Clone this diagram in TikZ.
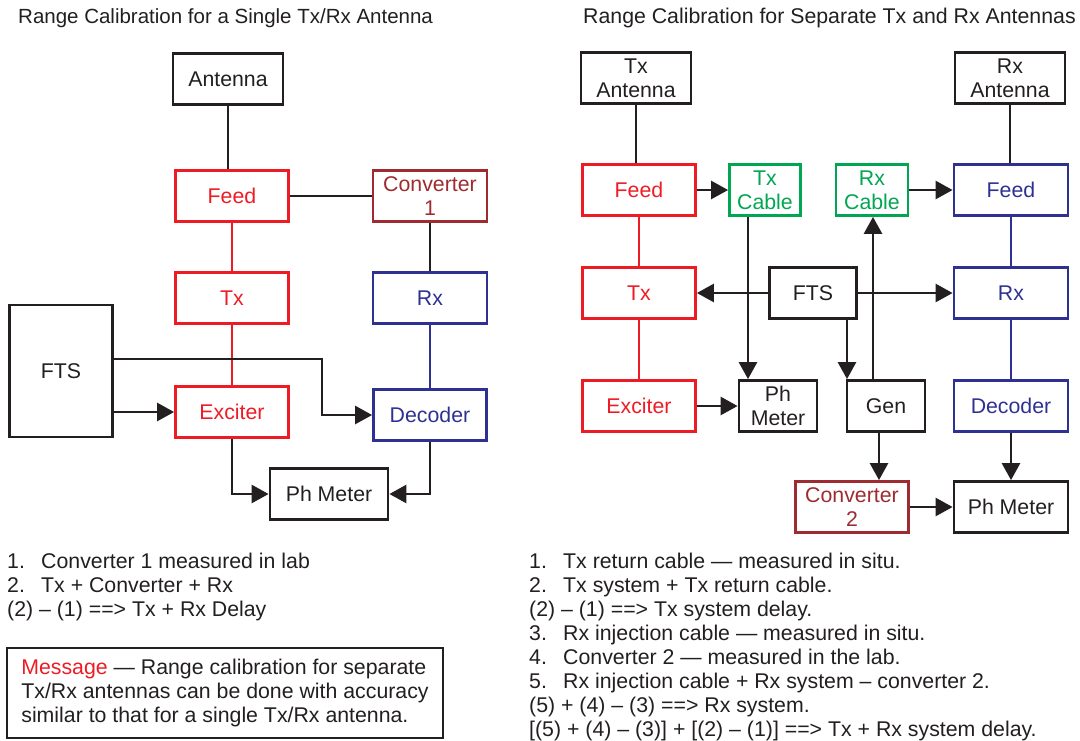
\documentclass[tikz,border=0pt]{standalone}
\usepackage{fontspec}
\setmainfont{Liberation Sans}
\usepackage{xcolor}
\usetikzlibrary{arrows.meta}

\definecolor{TxRed}{HTML}{ED1C24}
\definecolor{RxBlue}{HTML}{2E3192}
\definecolor{CableGreen}{HTML}{00A651}
\definecolor{ConvRed}{HTML}{9E2B2F}
\definecolor{Ink}{HTML}{231F20}
\newcommand{\numlbl}[1]{\makebox[34pt][l]{#1}}

\begin{document}
\begin{tikzpicture}
[x=1pt, y=-1pt, text=Ink,
 font=\fontsize{21.3}{24}\selectfont,
 BlkNode/.style={rectangle,
    draw=Ink, text=Ink, line width=2.8pt,
    minimum height=51pt, inner sep=0pt, align=center},
 TxNode/.style={BlkNode, draw=TxRed, text=TxRed},
 RxNode/.style={BlkNode, draw=RxBlue, text=RxBlue},
 CableNode/.style={BlkNode, draw=CableGreen, text=CableGreen},
 ConvNode/.style={BlkNode, draw=ConvRed, text=ConvRed},
 Link/.style={draw=Ink, line width=2.7pt},
 Arr/.style={Link, -{Triangle[length=17pt,width=18pt]}}]
\useasboundingbox (0,0) rectangle (1080,740);

% titles
\node[anchor=west, inner sep=0pt, font=\fontsize{20.5}{24}\selectfont] (ttlA) at (18,18) {Range Calibration for a Single Tx/Rx Antenna};
\node[anchor=west, inner sep=0pt] (ttlB) at (583,18) {Range Calibration for Separate Tx and Rx Antennas};

% single antenna
\node[BlkNode, minimum width=110pt] (antA) at (228,79) {Antenna};
\node[TxNode, minimum width=113pt] (feedA) at (232,196) {Feed};
\node[ConvNode, minimum width=114pt] (convA) at (430,196) {Converter\\1};
\node[TxNode, minimum width=113pt] (txA) at (232,298) {Tx};
\node[RxNode, minimum width=114pt] (rxA) at (430,298) {Rx};
\node[BlkNode, minimum width=103pt, minimum height=132pt] (ftsA) at (61,371) {FTS};
\node[TxNode, minimum width=113pt] (excA) at (232,412) {Exciter};
\node[RxNode, minimum width=113pt] (decA) at (430,415) {Decoder};
\node[BlkNode, minimum width=118pt] (phA) at (329,494) {Ph Meter};
\coordinate (bendA) at (322,359);

\draw[Link] (antA.south) -- (antA.south |- feedA.north);
\draw[Link] (feedA) -- (convA);
\draw[Link] (convA) -- (rxA);
\draw[Link, draw=TxRed] (feedA) -- (txA);
\draw[Link, draw=TxRed] (txA) -- (excA);
\draw[Link, draw=RxBlue] (rxA) -- (decA);
\draw[Arr] (ftsA.east |- bendA) -- (bendA) |- (decA.west);
\draw[Arr] (ftsA.east |- excA.west) -- (excA.west);
\draw[Arr] (excA.south) |- (phA.west);
\draw[Arr] (decA.south) |- (phA.east);

% separate antennas
\node[BlkNode, minimum width=110pt] (antT) at (636,78) {Tx\\Antenna};
\node[BlkNode, minimum width=110pt] (antR) at (1010,78) {Rx\\Antenna};
\node[TxNode, minimum width=113pt] (feedT) at (639,190) {Feed};
\node[CableNode, minimum width=71pt] (cabT) at (765,190) {Tx\\Cable};
\node[CableNode, minimum width=72pt] (cabR) at (872,190) {Rx\\Cable};
\node[RxNode, minimum width=114pt] (feedR) at (1011,190) {Feed};
\node[TxNode, minimum width=113pt] (txT) at (639,293) {Tx};
\node[BlkNode, minimum width=87pt] (ftsR) at (813,293) {FTS};
\node[RxNode, minimum width=114pt] (rxR) at (1011,293) {Rx};
\node[TxNode, minimum width=113pt] (excT) at (639,406) {Exciter};
\node[BlkNode, minimum width=78pt] (phT) at (778,406) {Ph\\Meter};
\node[BlkNode, minimum width=78pt] (gen) at (886,406) {Gen};
\node[RxNode, minimum width=114pt] (decR) at (1011,406) {Decoder};
\node[ConvNode, minimum width=113pt] (conv2) at (852,507) {Converter\\2};
\node[BlkNode, minimum width=114pt] (phR) at (1011,507) {Ph Meter};

\draw[Link] (antT.south) -- (antT.south |- feedT.north);
\draw[Link] (antR.south) -- (antR.south |- feedR.north);
\draw[Arr] (feedT) -- (cabT);
\draw[Arr] (cabR) -- (feedR);
\draw[Link, draw=TxRed] (feedT) -- (txT);
\draw[Link, draw=TxRed] (txT) -- (excT);
\draw[Link, draw=RxBlue] (feedR) -- (rxR);
\draw[Link, draw=RxBlue] (rxR) -- (decR);
\draw[Arr] (ftsR) -- (txT);
\draw[Arr] (ftsR) -- (rxR);
\draw[Arr] ([xshift=-17pt]cabT.south) -- ([xshift=-17pt]cabT.south |- phT.north);
\draw[Arr] ([xshift=34pt]ftsR.south) -- ([xshift=34pt]ftsR.south |- gen.north);
\draw[Arr] ([xshift=-13pt]gen.north) -- ([xshift=-13pt]gen.north |- cabR.south);
\draw[Arr] (excT) -- (phT);
\draw[Arr] ([xshift=-7pt]gen.south) -- ([xshift=-7pt]gen.south |- conv2.north);
\draw[Arr] (decR.south) -- (decR.south |- phR.north);
\draw[Arr] (conv2) -- (phR);

% notes
\node[anchor=north west, align=left, inner sep=0pt] (notesA) at (7,553)
  {\numlbl{1.}Converter 1 measured in lab\\
   \numlbl{2.}Tx + Converter + Rx\\
   (2) – (1) ==> Tx + Rx Delay};
\node[draw=Ink, line width=2.8pt, minimum width=436pt, minimum height=90pt,
      align=left, inner sep=0pt] (msg) at (225,693)
  {\textcolor{TxRed}{Message} — Range calibration for separate\\
   Tx/Rx antennas can be done with accuracy\\
   similar to that for a single Tx/Rx antenna.};
\node[anchor=north west, align=left, inner sep=0pt] (notesB) at (529,553)
  {\numlbl{1.}Tx return cable — measured in situ.\\
   \numlbl{2.}Tx system + Tx return cable.\\
   (2) – (1) ==> Tx system delay.\\
   \numlbl{3.}Rx injection cable — measured in situ.\\
   \numlbl{4.}Converter 2 — measured in the lab.\\
   \numlbl{5.}Rx injection cable + Rx system – converter 2.\\
   (5) + (4) – (3) ==> Rx system.\\
   {[}(5) + (4) – (3)] + [(2) – (1)] ==> Tx + Rx system delay.};
\end{tikzpicture}
\end{document}
